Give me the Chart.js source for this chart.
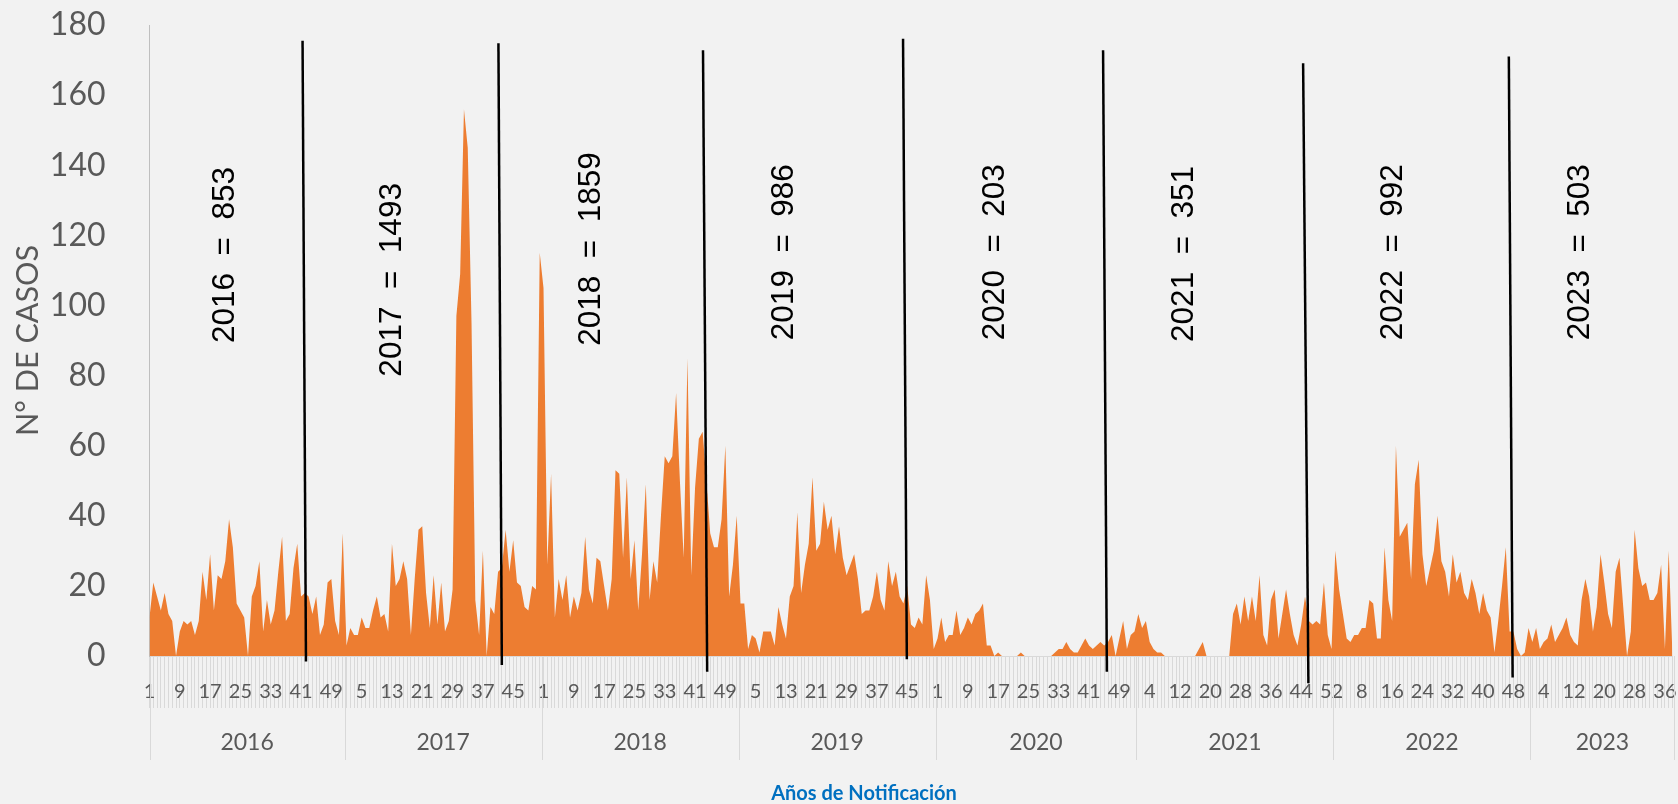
<!DOCTYPE html>
<html lang="es">
<head>
<meta charset="utf-8">
<title>Casos por semana epidemiológica 2016-2023</title>
<script src="https://cdn.jsdelivr.net/npm/chart.js@4/dist/chart.umd.min.js"></script>
<style>
  html, body { margin: 0; padding: 0; background: #f2f2f2; }
  #wrap { width: 1678px; height: 804px; }
</style>
</head>
<body>
<div id="wrap"><canvas id="chart" width="1678" height="804"></canvas></div>
<script>
// casos notificados por semana epidemiológica, un arreglo por año
const anios = ['2016', '2017', '2018', '2019', '2020', '2021', '2022', '2023'];
const casos2016 = [11, 21, 17, 13, 18, 12, 10, 0, 7, 10, 9, 10, 6, 10, 24, 16, 29, 13, 23, 22, 27, 39, 31, 15, 13, 11, 0, 17, 20, 27, 7, 16, 9, 13, 24, 34, 10, 12, 25, 32, 17, 18, 17, 12, 17, 6, 9, 21, 22, 10, 6, 35];
const casos2017 = [3, 8, 6, 6, 11, 8, 8, 13, 17, 11, 12, 7, 32, 20, 22, 27, 22, 6, 22, 36, 37, 18, 8, 23, 9, 21, 7, 10, 19, 97, 109, 156, 145, 95, 16, 6, 30, 0, 14, 12, 24, 25, 36, 24, 33, 21, 20, 14, 13, 20, 19, 115];
const casos2018 = [105, 26, 52, 11, 22, 16, 23, 11, 17, 13, 18, 34, 19, 15, 28, 27, 20, 13, 22, 53, 52, 28, 51, 22, 33, 13, 29, 49, 16, 27, 21, 40, 57, 55, 57, 75, 50, 28, 85, 23, 48, 62, 64, 50, 35, 31, 31, 39, 60, 17, 26, 40];
const casos2019 = [15, 15, 2, 6, 5, 1, 7, 7, 7, 3, 14, 9, 5, 17, 20, 41, 18, 26, 32, 51, 30, 32, 44, 36, 40, 29, 37, 28, 23, 26, 29, 22, 12, 13, 13, 17, 24, 16, 13, 27, 20, 24, 17, 15, 20, 9, 8, 11, 9, 23, 16, 2];
const casos2020 = [5, 11, 4, 6, 6, 13, 6, 8, 11, 9, 12, 13, 15, 3, 3, 0, 1, 0, 0, 0, 0, 0, 1, 0, 0, 0, 0, 0, 0, 0, 0, 1, 2, 2, 4, 2, 1, 1, 3, 5, 3, 2, 3, 4, 3, 4, 6, 0, 5, 10, 2, 6, 7];
const casos2021 = [12, 8, 10, 4, 2, 1, 1, 0, 0, 0, 0, 0, 0, 0, 0, 0, 2, 4, 0, 0, 0, 0, 0, 0, 0, 12, 15, 9, 17, 10, 17, 10, 23, 6, 3, 16, 19, 5, 12, 19, 12, 6, 3, 9, 17, 10, 9, 10, 9, 21, 6, 2];
const casos2022 = [30, 19, 12, 5, 4, 6, 6, 8, 8, 16, 15, 5, 5, 31, 16, 10, 60, 34, 36, 38, 22, 49, 56, 29, 20, 25, 30, 40, 27, 24, 17, 29, 21, 24, 18, 16, 22, 18, 12, 18, 13, 11, 1, 10, 20, 31, 7, 7, 2, 0, 1, 8];
const casos2023 = [4, 8, 2, 4, 5, 9, 4, 6, 8, 11, 6, 4, 3, 16, 22, 17, 7, 14, 29, 21, 12, 8, 24, 28, 14, 0, 7, 36, 25, 20, 21, 16, 16, 18, 26, 2, 30, 0];
const casosPorAnio = [casos2016, casos2017, casos2018, casos2019, casos2020, casos2021, casos2022, casos2023];
const ticksY = [0, 20, 40, 60, 80, 100, 120, 140, 160, 180];

// líneas negras: [semana arriba, casos arriba, semana abajo, casos abajo]
const divisorias = [
  [40.4, 175.5, 41.3, -1.6],
  [92.1, 174.8, 93.0, -2.6],
  [146.1, 172.8, 147.2, -4.5],
  [198.9, 176.1, 199.9, -0.9],
  [251.7, 172.8, 252.7, -4.5],
  [304.5, 169.1, 305.9, -7.8],
  [358.8, 171.0, 359.8, -6.1]
];
// centro de cada rótulo de total anual [semana, casos]
const rotulos = [[19.9, 114.4], [64.2, 107.3], [116.7, 116.1], [167.6, 115.2], [223.2, 115.2], [273.2, 114.7], [328.3, 115.2], [377.7, 115.2]];

// eje continuo de semanas
const semanas = [];
const valores = [];
const inicioAnio = [];
casosPorAnio.forEach(arr => {
  inicioAnio.push(semanas.length);
  arr.forEach((v, i) => {
    semanas.push(String(i + 1));
    valores.push(v);
  });
});

const GRIS = '#595959';

const extras = {
  id: 'extras',
  afterDraw(chart) {
    const { ctx, chartArea, scales: { x, y } } = chart;
    ctx.save();

    // separadores de años bajo el eje
    const bordes = inicioAnio.map(i => x.getPixelForValue(i - 0.5));
    bordes[0] = chartArea.left;
    bordes.push(x.getPixelForValue(valores.length - 0.5));
    ctx.strokeStyle = '#d9d9d9';
    ctx.lineWidth = 1;
    bordes.forEach(px => {
      const xx = Math.round(px) + 0.5;
      ctx.beginPath();
      ctx.moveTo(xx, chartArea.bottom);
      ctx.lineTo(xx, 760);
      ctx.stroke();
    });

    ctx.fillStyle = GRIS;
    ctx.font = '23px Lato';
    ctx.textAlign = 'center';
    ctx.textBaseline = 'middle';
    anios.forEach((a, k) => ctx.fillText(a, (bordes[k] + bordes[k + 1]) / 2, 743));

    // líneas de corte
    ctx.strokeStyle = '#000';
    ctx.lineWidth = 2.5;
    divisorias.forEach(([s1, c1, s2, c2]) => {
      ctx.beginPath();
      ctx.moveTo(x.getPixelForValue(s1), y.getPixelForValue(c1));
      ctx.lineTo(x.getPixelForValue(s2), y.getPixelForValue(c2));
      ctx.stroke();
    });

    // totales por año
    ctx.fillStyle = '#000';
    ctx.font = '31.5px "Liberation Sans", Arial, sans-serif';
    rotulos.forEach(([s, c], k) => {
      const total = casosPorAnio[k].reduce((a, b) => a + b, 0);
      ctx.save();
      ctx.translate(x.getPixelForValue(s), y.getPixelForValue(c));
      ctx.rotate(-Math.PI / 2);
      ctx.fillText(anios[k] + '  =  ' + total, 0, 0);
      ctx.restore();
    });

    // títulos de ejes
    ctx.fillStyle = GRIS;
    ctx.font = '30.5px Lato';
    ctx.save();
    ctx.translate(28, (chartArea.top + chartArea.bottom) / 2);
    ctx.rotate(-Math.PI / 2);
    ctx.fillText('N° DE CASOS', 0, 0);
    ctx.restore();

    ctx.fillStyle = '#0070c0';
    ctx.font = 'bold 20px Lato';
    ctx.fillText('Años de Notificación', 864, 794);

    ctx.restore();
  }
};

new Chart(document.getElementById('chart'), {
  type: 'line',
  data: {
    labels: semanas,
    datasets: [{
      label: 'Casos',
      data: valores,
      fill: 'origin',
      backgroundColor: '#ed7d31',
      borderColor: 'rgba(0,0,0,0)',
      borderWidth: 0,
      pointRadius: 0,
      tension: 0
    }]
  },
  options: {
    responsive: false,
    animation: false,
    devicePixelRatio: 1,
    layout: { padding: { top: 25, right: 5.5, bottom: 0, left: 0 } },
    plugins: {
      legend: { display: false },
      tooltip: { enabled: false }
    },
    scales: {
      x: {
        type: 'category',
        offset: false,
        afterFit: s => { s.height = 148; },
        border: { display: true, color: '#d9d9d9' },
        grid: {
          display: true,
          drawOnChartArea: false,
          drawTicks: true,
          tickLength: 52,
          color: '#d9d9d9',
          lineWidth: 1
        },
        ticks: {
          autoSkip: false,
          maxRotation: 0,
          minRotation: 0,
          padding: -28,
          color: GRIS,
          font: { family: 'Lato', size: 20 },
          callback: (v, i) => (i % 8 === 0 ? semanas[i] : '')
        }
      },
      y: {
        min: 0,
        max: 180,
        afterFit: s => {
          s.width = 149.5;
          s.paddingTop = 0;
          s.paddingBottom = 0;
        },
        afterBuildTicks: s => { s.ticks = ticksY.map(v => ({ value: v })); },
        border: { display: true, color: '#bfbfbf', width: 1 },
        grid: { display: false },
        ticks: {
          padding: 36,
          color: GRIS,
          font: { family: 'Lato', size: 32 }
        }
      }
    }
  },
  plugins: [extras]
});
</script>
</body>
</html>
